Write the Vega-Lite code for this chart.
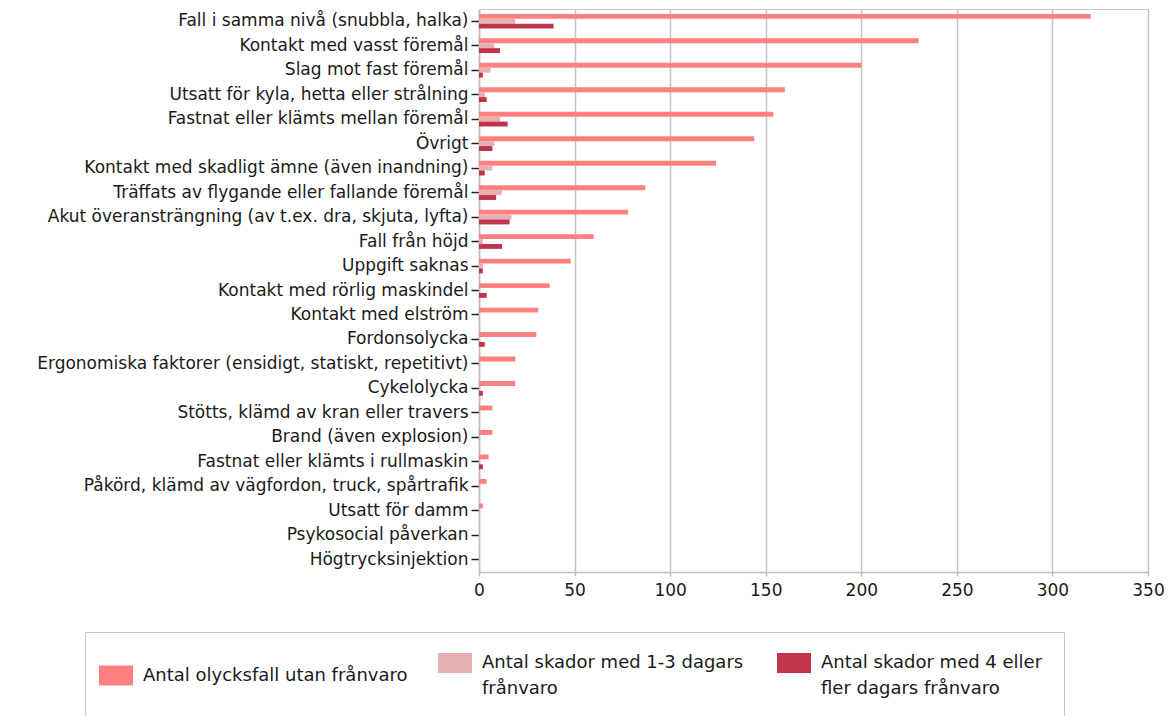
{
  "$schema": "https://vega.github.io/schema/vega-lite/v6.json",
  "width": 669,
  "height": 563,
  "autosize": {"type": "none"},
  "padding": {"left": 479, "top": 9, "right": 27, "bottom": 144},
  "config": {
    "font": "DejaVu Sans",
    "view": {"stroke": "#c8c8c8", "strokeWidth": 1}
  },
  "data": {
    "values": [
      {"category": "Fall i samma nivå (snubbla, halka)", "series": "Antal olycksfall utan frånvaro", "value": 320},
      {"category": "Fall i samma nivå (snubbla, halka)", "series": "Antal skador med 1-3 dagars frånvaro", "value": 19},
      {"category": "Fall i samma nivå (snubbla, halka)", "series": "Antal skador med 4 eller fler dagars frånvaro", "value": 39},
      {"category": "Kontakt med vasst föremål", "series": "Antal olycksfall utan frånvaro", "value": 230},
      {"category": "Kontakt med vasst föremål", "series": "Antal skador med 1-3 dagars frånvaro", "value": 8},
      {"category": "Kontakt med vasst föremål", "series": "Antal skador med 4 eller fler dagars frånvaro", "value": 11},
      {"category": "Slag mot fast föremål", "series": "Antal olycksfall utan frånvaro", "value": 200},
      {"category": "Slag mot fast föremål", "series": "Antal skador med 1-3 dagars frånvaro", "value": 6},
      {"category": "Slag mot fast föremål", "series": "Antal skador med 4 eller fler dagars frånvaro", "value": 2},
      {"category": "Utsatt för kyla, hetta eller strålning", "series": "Antal olycksfall utan frånvaro", "value": 160},
      {"category": "Utsatt för kyla, hetta eller strålning", "series": "Antal skador med 1-3 dagars frånvaro", "value": 3},
      {"category": "Utsatt för kyla, hetta eller strålning", "series": "Antal skador med 4 eller fler dagars frånvaro", "value": 4},
      {"category": "Fastnat eller klämts mellan föremål", "series": "Antal olycksfall utan frånvaro", "value": 154},
      {"category": "Fastnat eller klämts mellan föremål", "series": "Antal skador med 1-3 dagars frånvaro", "value": 11},
      {"category": "Fastnat eller klämts mellan föremål", "series": "Antal skador med 4 eller fler dagars frånvaro", "value": 15},
      {"category": "Övrigt", "series": "Antal olycksfall utan frånvaro", "value": 144},
      {"category": "Övrigt", "series": "Antal skador med 1-3 dagars frånvaro", "value": 8},
      {"category": "Övrigt", "series": "Antal skador med 4 eller fler dagars frånvaro", "value": 7},
      {"category": "Kontakt med skadligt ämne (även inandning)", "series": "Antal olycksfall utan frånvaro", "value": 124},
      {"category": "Kontakt med skadligt ämne (även inandning)", "series": "Antal skador med 1-3 dagars frånvaro", "value": 7},
      {"category": "Kontakt med skadligt ämne (även inandning)", "series": "Antal skador med 4 eller fler dagars frånvaro", "value": 3},
      {"category": "Träffats av flygande eller fallande föremål", "series": "Antal olycksfall utan frånvaro", "value": 87},
      {"category": "Träffats av flygande eller fallande föremål", "series": "Antal skador med 1-3 dagars frånvaro", "value": 12},
      {"category": "Träffats av flygande eller fallande föremål", "series": "Antal skador med 4 eller fler dagars frånvaro", "value": 9},
      {"category": "Akut överansträngning (av t.ex. dra, skjuta, lyfta)", "series": "Antal olycksfall utan frånvaro", "value": 78},
      {"category": "Akut överansträngning (av t.ex. dra, skjuta, lyfta)", "series": "Antal skador med 1-3 dagars frånvaro", "value": 17},
      {"category": "Akut överansträngning (av t.ex. dra, skjuta, lyfta)", "series": "Antal skador med 4 eller fler dagars frånvaro", "value": 16},
      {"category": "Fall från höjd", "series": "Antal olycksfall utan frånvaro", "value": 60},
      {"category": "Fall från höjd", "series": "Antal skador med 1-3 dagars frånvaro", "value": 2},
      {"category": "Fall från höjd", "series": "Antal skador med 4 eller fler dagars frånvaro", "value": 12},
      {"category": "Uppgift saknas", "series": "Antal olycksfall utan frånvaro", "value": 48},
      {"category": "Uppgift saknas", "series": "Antal skador med 1-3 dagars frånvaro", "value": 2},
      {"category": "Uppgift saknas", "series": "Antal skador med 4 eller fler dagars frånvaro", "value": 2},
      {"category": "Kontakt med rörlig maskindel", "series": "Antal olycksfall utan frånvaro", "value": 37},
      {"category": "Kontakt med rörlig maskindel", "series": "Antal skador med 1-3 dagars frånvaro", "value": 0},
      {"category": "Kontakt med rörlig maskindel", "series": "Antal skador med 4 eller fler dagars frånvaro", "value": 4},
      {"category": "Kontakt med elström", "series": "Antal olycksfall utan frånvaro", "value": 31},
      {"category": "Kontakt med elström", "series": "Antal skador med 1-3 dagars frånvaro", "value": 0},
      {"category": "Kontakt med elström", "series": "Antal skador med 4 eller fler dagars frånvaro", "value": 0},
      {"category": "Fordonsolycka", "series": "Antal olycksfall utan frånvaro", "value": 30},
      {"category": "Fordonsolycka", "series": "Antal skador med 1-3 dagars frånvaro", "value": 0},
      {"category": "Fordonsolycka", "series": "Antal skador med 4 eller fler dagars frånvaro", "value": 3},
      {"category": "Ergonomiska faktorer (ensidigt, statiskt, repetitivt)", "series": "Antal olycksfall utan frånvaro", "value": 19},
      {"category": "Ergonomiska faktorer (ensidigt, statiskt, repetitivt)", "series": "Antal skador med 1-3 dagars frånvaro", "value": 0},
      {"category": "Ergonomiska faktorer (ensidigt, statiskt, repetitivt)", "series": "Antal skador med 4 eller fler dagars frånvaro", "value": 0},
      {"category": "Cykelolycka", "series": "Antal olycksfall utan frånvaro", "value": 19},
      {"category": "Cykelolycka", "series": "Antal skador med 1-3 dagars frånvaro", "value": 0},
      {"category": "Cykelolycka", "series": "Antal skador med 4 eller fler dagars frånvaro", "value": 2},
      {"category": "Stötts, klämd av kran eller travers", "series": "Antal olycksfall utan frånvaro", "value": 7},
      {"category": "Stötts, klämd av kran eller travers", "series": "Antal skador med 1-3 dagars frånvaro", "value": 0},
      {"category": "Stötts, klämd av kran eller travers", "series": "Antal skador med 4 eller fler dagars frånvaro", "value": 0},
      {"category": "Brand (även explosion)", "series": "Antal olycksfall utan frånvaro", "value": 7},
      {"category": "Brand (även explosion)", "series": "Antal skador med 1-3 dagars frånvaro", "value": 0},
      {"category": "Brand (även explosion)", "series": "Antal skador med 4 eller fler dagars frånvaro", "value": 0},
      {"category": "Fastnat eller klämts i rullmaskin", "series": "Antal olycksfall utan frånvaro", "value": 5},
      {"category": "Fastnat eller klämts i rullmaskin", "series": "Antal skador med 1-3 dagars frånvaro", "value": 0},
      {"category": "Fastnat eller klämts i rullmaskin", "series": "Antal skador med 4 eller fler dagars frånvaro", "value": 2},
      {"category": "Påkörd, klämd av vägfordon, truck, spårtrafik", "series": "Antal olycksfall utan frånvaro", "value": 4},
      {"category": "Påkörd, klämd av vägfordon, truck, spårtrafik", "series": "Antal skador med 1-3 dagars frånvaro", "value": 0},
      {"category": "Påkörd, klämd av vägfordon, truck, spårtrafik", "series": "Antal skador med 4 eller fler dagars frånvaro", "value": 0},
      {"category": "Utsatt för damm", "series": "Antal olycksfall utan frånvaro", "value": 2},
      {"category": "Utsatt för damm", "series": "Antal skador med 1-3 dagars frånvaro", "value": 0},
      {"category": "Utsatt för damm", "series": "Antal skador med 4 eller fler dagars frånvaro", "value": 0},
      {"category": "Psykosocial påverkan", "series": "Antal olycksfall utan frånvaro", "value": 0},
      {"category": "Psykosocial påverkan", "series": "Antal skador med 1-3 dagars frånvaro", "value": 0},
      {"category": "Psykosocial påverkan", "series": "Antal skador med 4 eller fler dagars frånvaro", "value": 0},
      {"category": "Högtrycksinjektion", "series": "Antal olycksfall utan frånvaro", "value": 0},
      {"category": "Högtrycksinjektion", "series": "Antal skador med 1-3 dagars frånvaro", "value": 0},
      {"category": "Högtrycksinjektion", "series": "Antal skador med 4 eller fler dagars frånvaro", "value": 0}
    ]
  },
  "mark": {"type": "bar"},
  "encoding": {
    "y": {
      "field": "category",
      "type": "nominal",
      "sort": null,
      "scale": {"paddingInner": 0.4, "paddingOuter": 0.2},
      "axis": {
        "title": null,
        "labelFontSize": 17,
        "labelColor": "#1a1a1a",
        "tickColor": "#222222",
        "tickSize": 8,
        "tickWidth": 1.5,
        "domainColor": "#bdbdbd",
        "domainWidth": 1.5,
        "labelPadding": 3,
        "labelLimit": 500
      }
    },
    "x": {
      "field": "value",
      "type": "quantitative",
      "scale": {"domain": [0, 350]},
      "axis": {
        "title": null,
        "values": [0, 50, 100, 150, 200, 250, 300, 350],
        "grid": true,
        "gridColor": "#c4c4c4",
        "gridWidth": 1.5,
        "ticks": true,
        "tickColor": "#bdbdbd",
        "tickSize": 4,
        "tickWidth": 1.5,
        "labelFlush": false,
        "labelFontSize": 17,
        "labelPadding": 6,
        "labelColor": "#1a1a1a",
        "domainColor": "#bdbdbd",
        "domainWidth": 1.5
      }
    },
    "yOffset": {
      "field": "series",
      "sort": ["Antal olycksfall utan frånvaro", "Antal skador med 1-3 dagars frånvaro", "Antal skador med 4 eller fler dagars frånvaro"]
    },
    "color": {
      "field": "series",
      "type": "nominal",
      "scale": {
        "domain": ["Antal olycksfall utan frånvaro", "Antal skador med 1-3 dagars frånvaro", "Antal skador med 4 eller fler dagars frånvaro"],
        "range": ["#ff8080", "#e6b0b0", "#c0334a"]
      },
      "legend": {
        "orient": "none",
        "legendX": -394,
        "legendY": 623,
        "direction": "horizontal",
        "columns": 3,
        "title": null,
        "symbolType": "M-1.7,-1H1.7V1H-1.7Z",
        "symbolSize": 400,
        "symbolStrokeWidth": 0,
        "symbolOpacity": 1,
        "labelFontSize": 18,
        "labelColor": "#1a1a1a",
        "labelLimit": 400,
        "labelOffset": 17,
        "columnPadding": 30,
        "gridAlign": "all",
        "strokeColor": "#c8c8c8",
        "padding": 21,
        "labelExpr": "datum.label == 'Antal skador med 1-3 dagars frånvaro' ? ['Antal skador med 1-3 dagars', 'frånvaro'] : datum.label == 'Antal skador med 4 eller fler dagars frånvaro' ? ['Antal skador med 4 eller', 'fler dagars frånvaro'] : datum.label",
        "encode": {"labels": {"update": {"lineHeight": {"value": 26}}}}
      }
    }
  }
}
